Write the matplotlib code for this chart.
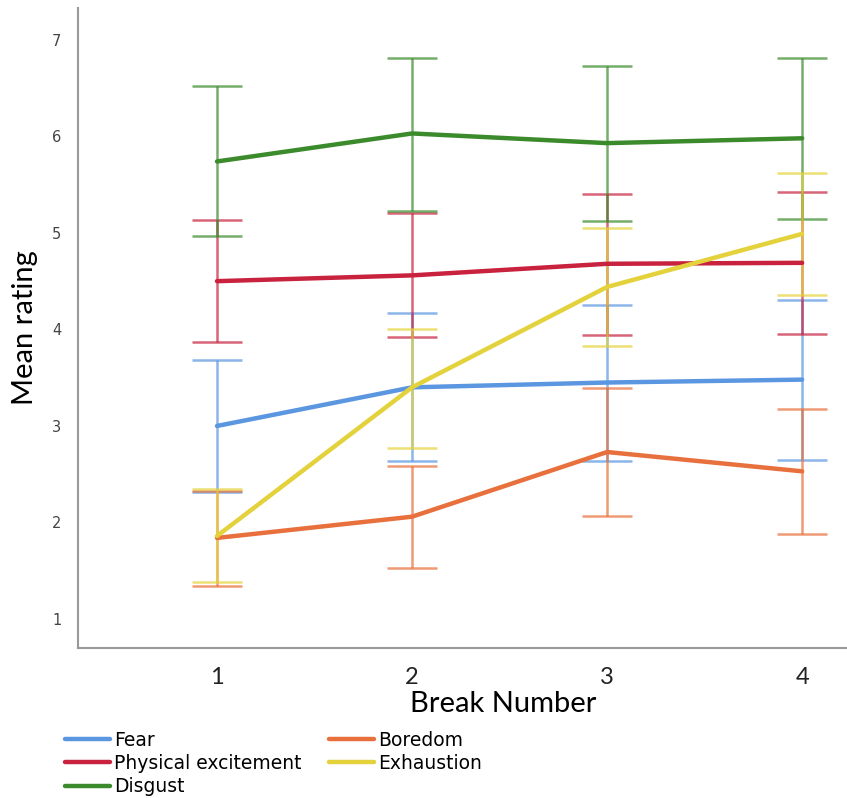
import numpy as np
import matplotlib
matplotlib.use("Agg")
from matplotlib import pyplot as plt

# data
breaks = [1, 2, 3, 4]
series = ['Fear', 'Physical excitement', 'Disgust', 'Boredom', 'Exhaustion']
colors = ['#5b96e0', '#c8223e', '#3b8a2c', '#e8703c', '#e3d23c']

fear_mean = [3.00, 3.40, 3.45, 3.48]
fear_low = [2.32, 2.64, 2.64, 2.65]
fear_high = [3.68, 4.17, 4.25, 4.30]

phys_mean = [4.50, 4.56, 4.68, 4.69]
phys_low = [3.87, 3.92, 3.94, 3.95]
phys_high = [5.13, 5.21, 5.40, 5.42]

disgust_mean = [5.74, 6.03, 5.93, 5.98]
disgust_low = [4.97, 5.23, 5.12, 5.14]
disgust_high = [6.52, 6.81, 6.73, 6.81]

boredom_mean = [1.84, 2.06, 2.73, 2.53]
boredom_low = [1.34, 1.53, 2.07, 1.88]
boredom_high = [2.33, 2.59, 3.39, 3.18]

exhaust_mean = [1.86, 3.40, 4.44, 4.99]
exhaust_low = [1.38, 2.77, 3.83, 4.36]
exhaust_high = [2.35, 4.00, 5.05, 5.62]

means = [fear_mean, phys_mean, disgust_mean, boredom_mean, exhaust_mean]
lows = [fear_low, phys_low, disgust_low, boredom_low, exhaust_low]
highs = [fear_high, phys_high, disgust_high, boredom_high, exhaust_high]

fig = plt.figure(figsize=(8.47, 7.98), dpi=100)
ax = fig.add_axes([0.092, 0.188, 0.908, 0.802])

# error bars first (thin, lighter), then mean lines on top
for m, lo, hi, c in zip(means, lows, highs, colors):
    m = np.asarray(m)
    yerr = [m - np.asarray(lo), np.asarray(hi) - m]
    ax.errorbar(breaks, m, yerr=yerr, fmt='none', ecolor=c, alpha=0.7,
                elinewidth=1.8, capsize=18, capthick=1.8, zorder=2)

handles = []
for m, name, c in zip(means, series, colors):
    h, = ax.plot(breaks, m, color=c, lw=3.2, solid_capstyle='round', label=name, zorder=3)
    handles.append(h)

ax.set_xlim(0.287, 4.23)
ax.set_ylim(0.70, 7.33)
ax.set_xticks(breaks)
ax.set_yticks([1, 2, 3, 4, 5, 6, 7])
ax.tick_params(axis='both', length=0)
ax.tick_params(axis='y', labelsize=10.5, labelcolor='#444444', pad=12)
for t in ax.get_xticklabels():
    t.set_fontfamily('Lato')
    t.set_fontsize(17)
    t.set_color('#222222')
ax.tick_params(axis='x', pad=14)

for s in ['top', 'right']:
    ax.spines[s].set_visible(False)
for s in ['left', 'bottom']:
    ax.spines[s].set_color('#999999')
    ax.spines[s].set_linewidth(1.5)

ax.set_xlabel('Break Number', fontfamily='Lato', fontsize=21)
ax.xaxis.set_label_coords(0.553, -0.068)
ax.set_ylabel('Mean rating', fontfamily='Lato', fontsize=21)
ax.yaxis.set_label_coords(-0.052, 0.50)

fig.legend(handles=handles, labels=series, ncol=2, loc='upper left',
           bbox_to_anchor=(0.0767, 0.0845), frameon=False, fontsize=13.5,
           handlelength=2.4, handletextpad=0.2, columnspacing=1.5,
           labelspacing=0.23, borderaxespad=0, borderpad=0)

fig.savefig('out.png', dpi=100, facecolor='white')
